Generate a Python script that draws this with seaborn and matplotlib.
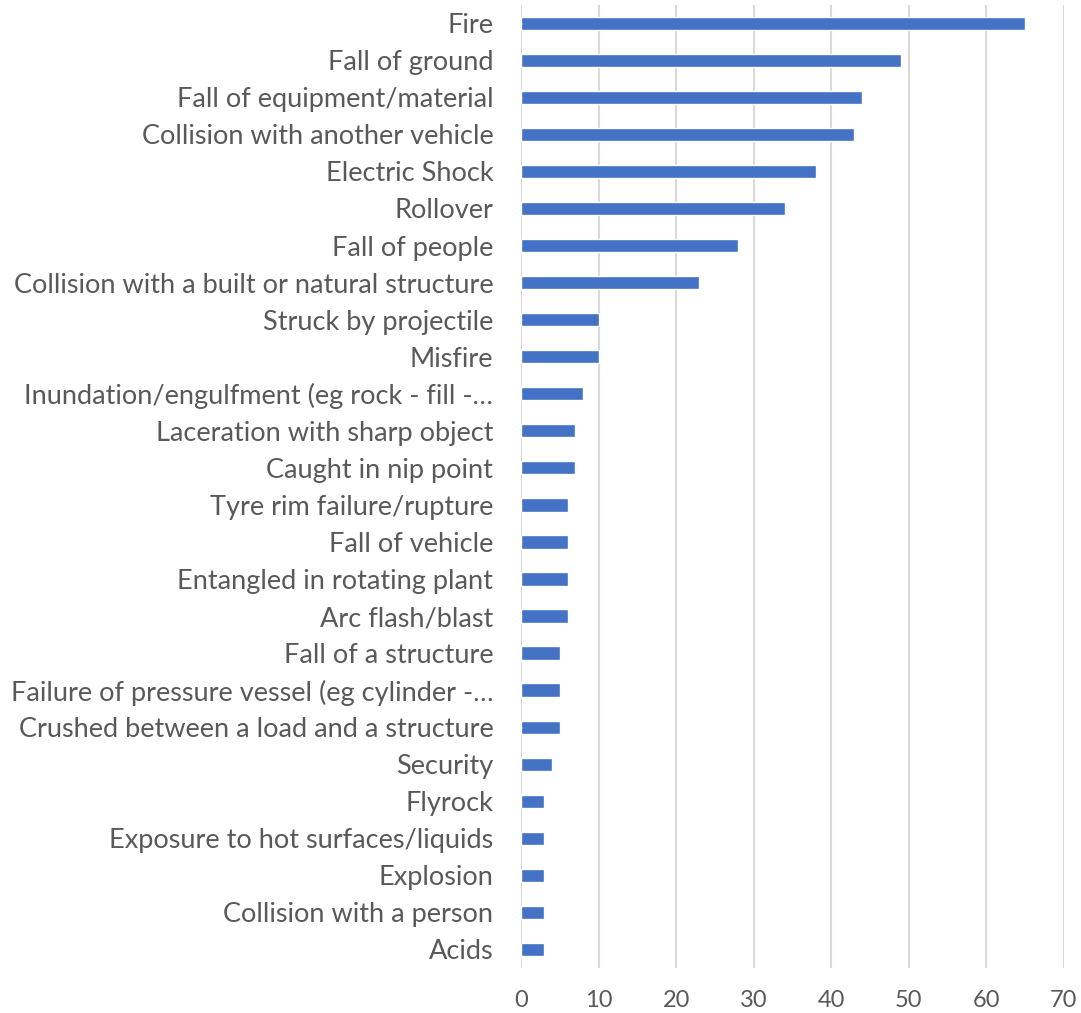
import matplotlib
matplotlib.use("Agg")
import matplotlib.pyplot as plt
import seaborn as sns
import pandas as pd

categories = [
    "Fire", "Fall of ground", "Fall of equipment/material", "Collision with another vehicle",
    "Electric Shock", "Rollover", "Fall of people", "Collision with a built or natural structure",
    "Struck by projectile", "Misfire", "Inundation/engulfment (eg rock - fill -…",
    "Laceration with sharp object", "Caught in nip point", "Tyre rim failure/rupture",
    "Fall of vehicle", "Entangled in rotating plant", "Arc flash/blast", "Fall of a structure",
    "Failure of pressure vessel (eg cylinder -…", "Crushed between a load and a structure",
    "Security", "Flyrock", "Exposure to hot surfaces/liquids", "Explosion",
    "Collision with a person", "Acids",
]
counts = [65, 49, 44, 43, 38, 34, 28, 23, 10, 10, 8, 7, 7, 6, 6, 6, 6, 5, 5, 5, 4, 3, 3, 3, 3, 3]
x_ticks = [0, 10, 20, 30, 40, 50, 60, 70]

df = pd.DataFrame({"category": categories, "count": counts})

sns.set_theme(style="white")
plt.rcParams['font.family'] = ['Lato', 'DejaVu Sans']

fig = plt.figure(figsize=(10.81, 10.13), dpi=100)
ax = fig.add_axes([0.482, 0.0444, 0.502, 0.951])

sns.barplot(data=df, x="count", y="category", order=categories, orient="h",
            color="#4472C4", width=0.36, saturation=1, ax=ax, zorder=3)

ax.set_xlim(0, 70)
ax.set_ylim(len(categories) - 0.5, -0.5)
ax.set_xticks(x_ticks)
ax.set_xticklabels([str(t) for t in x_ticks])
ax.set_xlabel("")
ax.set_ylabel("")
for s in ax.spines.values():
    s.set_visible(False)
for t in x_ticks:
    ax.axvline(t, color="#D9D9D9", lw=1.5, zorder=1)
ax.tick_params(axis="y", length=0, pad=20, labelsize=19.5, labelcolor="#595959")
ax.tick_params(axis="x", length=0, pad=16, labelsize=17, labelcolor="#595959")

fig.savefig("out.png", dpi=100, facecolor="white")
